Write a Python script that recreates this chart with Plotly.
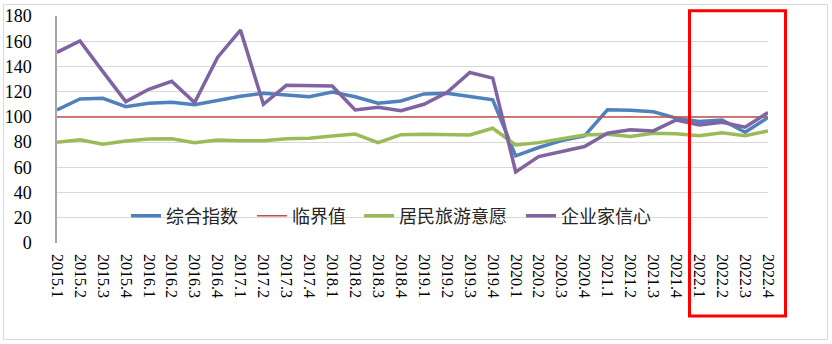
import plotly.graph_objects as go

# Quarterly labels 2015.1 - 2022.4
quarters = [f"{y}.{q}" for y in range(2015, 2023) for q in range(1, 5)]

composite_index = [105.5, 114.2, 114.7, 108.1, 110.8, 111.6, 109.7, 112.9,
                   116.3, 118.7, 117.4, 116.0, 119.7, 116.0, 110.8, 112.6,
                   118.2, 118.8, 116.1, 113.5, 69.1, 75.7, 81.2, 84.9,
                   105.6, 105.3, 104.0, 99.0, 96.3, 97.6, 87.8, 99.5]
threshold = [100] * len(quarters)
travel_intent = [79.8, 81.9, 78.3, 80.9, 82.5, 82.7, 79.6, 81.7,
                 81.0, 81.0, 82.7, 83.0, 84.9, 86.4, 79.6, 85.9,
                 86.2, 86.3, 85.7, 91.0, 77.8, 79.6, 83.0, 85.7,
                 86.2, 84.4, 87.0, 86.7, 85.1, 87.5, 85.1, 88.9]
business_confidence = [151.2, 160.2, 135.9, 112.1, 121.9, 128.2, 111.3, 147.2,
                       168.8, 110.0, 125.0, 124.5, 124.5, 105.5, 107.6, 104.9,
                       110.0, 119.3, 135.2, 130.7, 56.4, 68.5, 72.5, 76.5,
                       87.0, 89.7, 88.9, 97.6, 93.6, 95.8, 91.8, 103.4]

y_ticks = list(range(0, 181, 20))

series = [
    ("综合指数", composite_index, "#4F81BD", 3.5),
    ("临界值", threshold, "#C0504D", 1.5),
    ("居民旅游意愿", travel_intent, "#9BBB59", 3.5),
    ("企业家信心", business_confidence, "#8064A2", 3.5),
]

SERIF = "'Liberation Serif', 'Times New Roman', Times, serif"

# plot area geometry in pixels (used for paper-coordinate placement)
W, H = 832, 344
L, R, T, B = 57, 64, 16, 101
pw, ph = W - L - R, H - T - B


def px_x(x):
    return (x - L) / pw


def px_y(y):
    return (H - B - y) / ph


# left edge (px) of each legend entry's line sample
legend_starts = [132, 258, 365, 527]

fig = go.Figure()
legends = {}
for i, (name, vals, color, width) in enumerate(series):
    key = "legend" if i == 0 else f"legend{i + 1}"
    fig.add_trace(go.Scatter(
        x=list(range(len(quarters))), y=vals, name=name, mode="lines",
        line=dict(color=color, width=width), legend=key,
    ))
    legends[key] = dict(
        orientation="h", x=px_x(legend_starts[i] - 6), y=px_y(216),
        xanchor="left", yanchor="middle",
        bgcolor="rgba(0,0,0,0)", borderwidth=0,
        font=dict(family="Noto Sans CJK SC", size=18, color="#262626"),
        itemwidth=30,
    )

fig.update_layout(
    width=W, height=H,
    margin=dict(l=L, r=R, t=T, b=B),
    paper_bgcolor="white", plot_bgcolor="white",
    showlegend=True,
    **legends,
    xaxis=dict(
        range=[0, len(quarters) - 1], automargin=False,
        tickmode="array", tickvals=list(range(len(quarters))), ticktext=quarters,
        tickangle=90, ticks="", showgrid=False, zeroline=False,
        showline=False,
        tickfont=dict(family=SERIF, size=16, color="black"),
        ticklabelstandoff=10,
    ),
    yaxis=dict(
        range=[0, 180], tickvals=y_ticks, ticks="", automargin=False,
        showgrid=True, gridcolor="#D9D9D9", gridwidth=1,
        zeroline=False, showline=True, linecolor="#A6A6A6", linewidth=1.5,
        tickfont=dict(family=SERIF, size=18, color="black"),
        ticklabelstandoff=20,
    ),
    shapes=[
        # outer chart border
        dict(type="rect", xref="paper", yref="paper",
             x0=px_x(3.5), x1=px_x(827.5), y0=px_y(339.5), y1=px_y(4.5),
             line=dict(color="#D9D9D9", width=1), layer="below"),
        # highlight box around 2022 quarters
        dict(type="rect", xref="paper", yref="paper",
             x0=px_x(689.5), x1=px_x(785.5), y0=px_y(316), y1=px_y(10.7),
             line=dict(color="#FF0000", width=3)),
    ],
)

fig.write_html("out.html")
